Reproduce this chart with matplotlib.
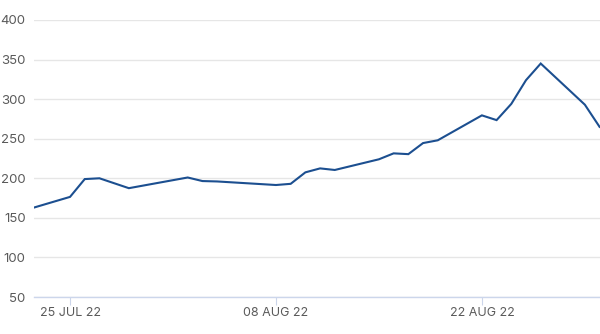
import matplotlib
matplotlib.use("Agg")
import matplotlib.pyplot as plt
import matplotlib.dates as mdates
import numpy as np

# data
dates = ["2022-07-22", "2022-07-25", "2022-07-26", "2022-07-27", "2022-07-29",
         "2022-08-02", "2022-08-03", "2022-08-04", "2022-08-08", "2022-08-09",
         "2022-08-10", "2022-08-11", "2022-08-12", "2022-08-15", "2022-08-16",
         "2022-08-17", "2022-08-18", "2022-08-19", "2022-08-22", "2022-08-23",
         "2022-08-24", "2022-08-25", "2022-08-26", "2022-08-29", "2022-08-30"]
values = [160, 176.5, 199, 200, 187.5,
          201, 196.5, 196, 191.5, 193,
          207.5, 212.5, 210.5, 224, 231.5,
          230.5, 244.5, 248, 279.5, 273.5,
          294, 324, 345, 293, 265]
tick_dates = ["2022-07-25", "2022-08-08", "2022-08-22"]
tick_labels = ["25 JUL 22", "08 AUG 22", "22 AUG 22"]
y_ticks = [50, 100, 150, 200, 250, 300, 350, 400]

plt.rcParams["font.family"] = ["Inter", "DejaVu Sans"]

x = np.array(dates, dtype="datetime64[D]")
xt = np.array(tick_dates, dtype="datetime64[D]")

fig = plt.figure(figsize=(6, 3.34), dpi=100)
ax = fig.add_axes([34 / 600, 1 - 297 / 334, 1 - 34 / 600, (297 - 20) / 334])

ax.plot(x, values, color="#1c4f90", linewidth=1.5, solid_joinstyle="miter")

x0 = mdates.date2num(np.datetime64("2022-07-25")) - 2.45
x1 = mdates.date2num(np.datetime64("2022-08-30")) + 0.03
ax.set_xlim(x0, x1)
ax.set_ylim(50, 400)

ax.set_yticks(y_ticks)
ax.set_yticklabels([str(v) for v in y_ticks])
ax.set_xticks(xt)
ax.set_xticklabels(tick_labels)

ax.grid(axis="y", color="#e6e6e6", linewidth=1)
ax.set_axisbelow(True)
for s in ["top", "right", "left"]:
    ax.spines[s].set_visible(False)
ax.spines["bottom"].set_color("#ccd6eb")
ax.spines["bottom"].set_linewidth(1)

ax.tick_params(axis="y", length=0, pad=6, labelsize=9.5, labelcolor="#5a5a5a")
ax.tick_params(axis="x", length=6, width=0.8, color="#ccd6eb", pad=1,
               labelsize=9, labelcolor="#5a5a5a")

fig.savefig("out.png", dpi=100)
